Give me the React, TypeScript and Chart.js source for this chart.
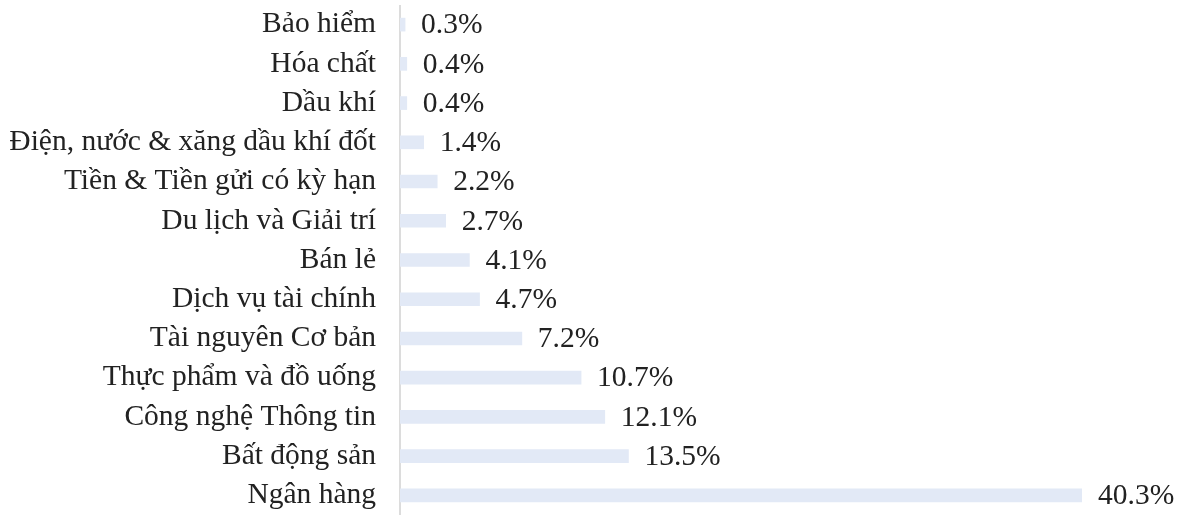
import React, { useEffect, useRef } from "react";
import { Chart, registerables } from "chart.js";

Chart.register(...registerables);

const categories = [
  "Bảo hiểm",
  "Hóa chất",
  "Dầu khí",
  "Điện, nước & xăng dầu khí đốt",
  "Tiền & Tiền gửi có kỳ hạn",
  "Du lịch và Giải trí",
  "Bán lẻ",
  "Dịch vụ tài chính",
  "Tài nguyên Cơ bản",
  "Thực phẩm và đồ uống",
  "Công nghệ Thông tin",
  "Bất động sản",
  "Ngân hàng",
];
const values = [0.3, 0.4, 0.4, 1.4, 2.2, 2.7, 4.1, 4.7, 7.2, 10.7, 12.1, 13.5, 40.3];

const FONT = "'Liberation Serif', 'Times New Roman', serif";
const FONT_SIZE = 29.5;

const labelPlugin = {
  id: "valueLabels",
  afterDatasetsDraw(chart: any) {
    const ctx = chart.ctx;
    const meta = chart.getDatasetMeta(0);
    ctx.save();
    ctx.font = `${FONT_SIZE}px ${FONT}`;
    ctx.fillStyle = "#222222";
    ctx.textAlign = "left";
    ctx.textBaseline = "middle";
    meta.data.forEach((bar: any, i: number) => {
      ctx.fillText(values[i].toFixed(1) + "%", bar.x + 16, bar.y + 1);
    });
    ctx.restore();
  },
  beforeDatasetsDraw(chart: any) {
    const ctx = chart.ctx;
    const left = chart.chartArea.left;
    ctx.save();
    ctx.strokeStyle = "#dcdcdc";
    ctx.lineWidth = 2;
    ctx.beginPath();
    ctx.moveTo(left, 5);
    ctx.lineTo(left, 515);
    ctx.stroke();
    ctx.restore();
  },
};

export default function App() {
  const ref = useRef<HTMLCanvasElement | null>(null);
  useEffect(() => {
    document.body.style.margin = "0";
    const chart = new Chart(ref.current!, {
      type: "bar",
      data: {
        labels: categories,
        datasets: [
          {
            data: values,
            backgroundColor: "#e2e9f6",
            borderWidth: 0,
            barThickness: 13,
          },
        ],
      },
      options: {
        indexAxis: "y",
        animation: false,
        responsive: false,
        maintainAspectRatio: false,
        layout: { padding: { top: 5, right: 99, bottom: 0, left: 0 } },
        plugins: { legend: { display: false }, tooltip: { enabled: false } },
        scales: {
          x: { display: false, min: 0, max: 40.3 },
          y: {
            grid: { display: false },
            border: { display: false },
            ticks: {
              color: "#222222",
              padding: 16,
              autoSkip: false,
              font: { family: FONT, size: FONT_SIZE },
            },
            afterFit(scale: any) {
              scale.width = 400;
              scale.paddingTop = 0;
              scale.paddingBottom = 0;
            },
          },
        },
      },
      plugins: [labelPlugin],
    });
    return () => chart.destroy();
  }, []);
  return (
    <div style={{ width: 1181, height: 515 }}>
      <canvas ref={ref} width={1181} height={515} style={{ display: "block" }} />
    </div>
  );
}
